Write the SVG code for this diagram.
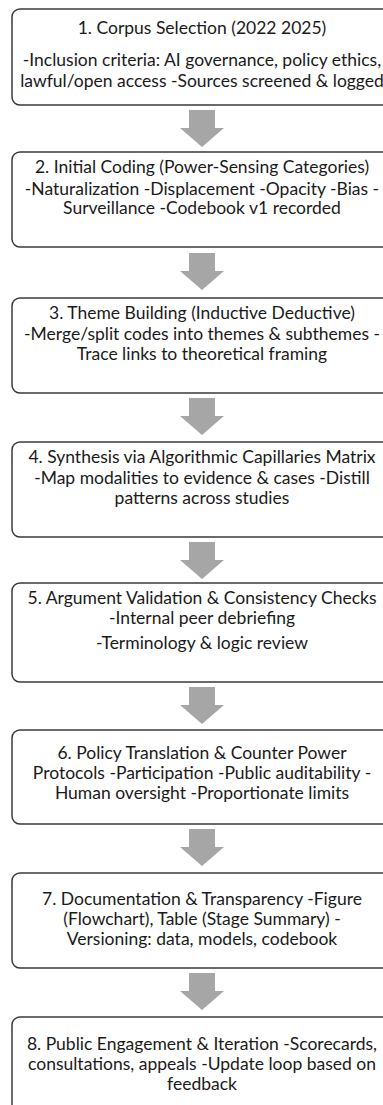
<svg xmlns="http://www.w3.org/2000/svg" width="383" height="1105" viewBox="0 0 383 1105">
<defs>
<style>
.box{fill:#ffffff;stroke:#3a3a3a;stroke-width:1.5}
.t{font-family:Lato,"Open Sans","Liberation Sans",sans-serif;font-size:17.5px;fill:#1a1a1a;text-anchor:middle}
.arr{fill:#a6a6a6}
</style>
<path id="arrow" class="arr" d="M-13,0 H13 V18 H22 L0,37 L-22,18 H-13 Z"/>
</defs>
<rect width="383" height="1105" fill="#ffffff"/>
<g id="connectors">
<use href="#arrow" x="202" y="110"/>
<use href="#arrow" x="202" y="253"/>
<use href="#arrow" x="202" y="398"/>
<use href="#arrow" x="202" y="542"/>
<use href="#arrow" x="202" y="687"/>
<use href="#arrow" x="202" y="829"/>
<use href="#arrow" x="202" y="973"/>
</g>
<g id="node1">
<rect class="box" x="12" y="9" width="381" height="96" rx="8"/>
<text class="t" x="202" y="34">1. Corpus Selection (2022 2025)</text>
<text class="t" x="202" y="66">-Inclusion criteria: AI governance, policy ethics,</text>
<text class="t" x="202" y="87">lawful/open access -Sources screened &amp; logged</text>
</g>
<g id="node2">
<rect class="box" x="12" y="152" width="381" height="95" rx="8"/>
<text class="t" x="202" y="173">2. Initial Coding (Power-Sensing Categories)</text>
<text class="t" x="202" y="195">-Naturalization -Displacement -Opacity -Bias -</text>
<text class="t" x="202" y="214">Surveillance -Codebook v1 recorded</text>
</g>
<g id="node3">
<rect class="box" x="12" y="298" width="381" height="95" rx="8"/>
<text class="t" x="202" y="319">3. Theme Building (Inductive Deductive)</text>
<text class="t" x="202" y="340">-Merge/split codes into themes &amp; subthemes -</text>
<text class="t" x="202" y="360">Trace links to theoretical framing</text>
</g>
<g id="node4">
<rect class="box" x="12" y="442" width="381" height="95" rx="8"/>
<text class="t" x="202" y="463">4. Synthesis via Algorithmic Capillaries Matrix</text>
<text class="t" x="202" y="484">-Map modalities to evidence &amp; cases -Distill</text>
<text class="t" x="202" y="504">patterns across studies</text>
</g>
<g id="node5">
<rect class="box" x="12" y="583" width="381" height="99" rx="8"/>
<text class="t" x="202" y="604">5. Argument Validation &amp; Consistency Checks</text>
<text class="t" x="202" y="624">-Internal peer debriefing</text>
<text class="t" x="202" y="649">-Terminology &amp; logic review</text>
</g>
<g id="node6">
<rect class="box" x="12" y="730" width="381" height="94" rx="8"/>
<text class="t" x="202" y="759">6. Policy Translation &amp; Counter Power</text>
<text class="t" x="202" y="779">Protocols -Participation -Public auditability -</text>
<text class="t" x="202" y="799">Human oversight -Proportionate limits</text>
</g>
<g id="node7">
<rect class="box" x="12" y="873" width="381" height="95" rx="8"/>
<text class="t" x="202" y="905">7. Documentation &amp; Transparency -Figure</text>
<text class="t" x="202" y="925">(Flowchart), Table (Stage Summary) -</text>
<text class="t" x="202" y="945">Versioning: data, models, codebook</text>
</g>
<g id="node8">
<rect class="box" x="12" y="1017" width="381" height="100" rx="8"/>
<text class="t" x="202" y="1050">8. Public Engagement &amp; Iteration -Scorecards,</text>
<text class="t" x="202" y="1070">consultations, appeals -Update loop based on</text>
<text class="t" x="202" y="1090">feedback</text>
</g>
</svg>
